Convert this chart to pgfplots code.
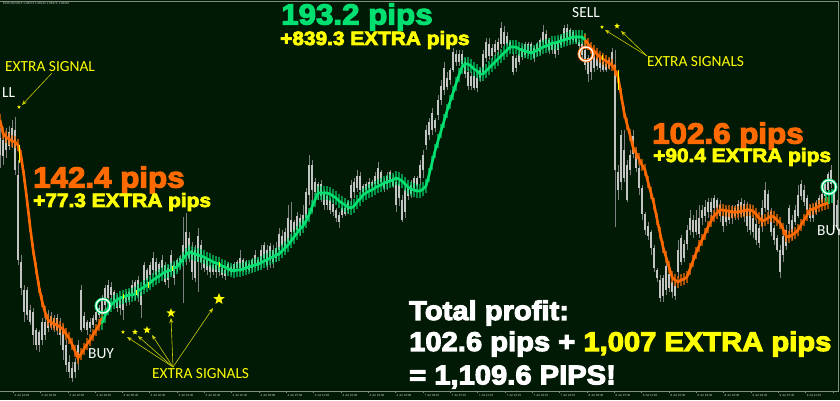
\documentclass[border=0pt]{standalone}
\usepackage{fontspec}
\usepackage{pgfplots}
\usepackage{pgfplotstable}
\pgfplotsset{compat=1.18}
\usetikzlibrary{arrows.meta}
\setmainfont{Liberation Sans}
\newfontfamily\heavy[BoldFeatures={FakeBold=4,FakeStretch=1.08}]{Liberation Sans}
\newfontfamily\callout{Carlito}
\definecolor{bg}{HTML}{011A05}
\definecolor{frameline}{HTML}{7F8F7F}
\definecolor{wick}{HTML}{808080}
\definecolor{body}{HTML}{C4C4C4}
\definecolor{buyline}{HTML}{00E070}
\definecolor{sellline}{HTML}{FF6A00}
\definecolor{note}{HTML}{FFFF00}

% filled five pointed star, the plotmarks one reads as an asterisk when small
\pgfdeclareplotmark{fivestar}{%
  \pgfpathmoveto{\pgfpointpolar{90}{\pgfplotmarksize}}%
  \pgfpathlineto{\pgfpointpolar{126}{.42\pgfplotmarksize}}%
  \pgfpathlineto{\pgfpointpolar{162}{\pgfplotmarksize}}%
  \pgfpathlineto{\pgfpointpolar{198}{.42\pgfplotmarksize}}%
  \pgfpathlineto{\pgfpointpolar{234}{\pgfplotmarksize}}%
  \pgfpathlineto{\pgfpointpolar{270}{.42\pgfplotmarksize}}%
  \pgfpathlineto{\pgfpointpolar{306}{\pgfplotmarksize}}%
  \pgfpathlineto{\pgfpointpolar{342}{.42\pgfplotmarksize}}%
  \pgfpathlineto{\pgfpointpolar{18}{\pgfplotmarksize}}%
  \pgfpathlineto{\pgfpointpolar{54}{.42\pgfplotmarksize}}%
  \pgfpathclose
  \pgfusepathqfill}

% one row per bar, 3 px apart: wick top/bottom, body top/bottom (image y)
\pgfplotstableread[row sep=crcr]{
t b bt bb\\
128 168 138 155\\130 165 140 156\\128 158 138 150\\126 150 132 146\\120 148 128 140\\117 175 130 170\\
160 265 175 260\\255 295 262 288\\285 322 290 312\\287 320 290 315\\305 325 310 322\\308 345 312 335\\
328 350 330 345\\330 352 332 345\\318 345 322 340\\310 340 322 335\\310 332 318 328\\312 330 316 326\\
315 332 318 328\\314 335 318 330\\318 345 325 335\\325 360 330 350\\340 372 345 365\\355 378 362 372\\
362 382 368 378\\358 378 362 372\\340 370 345 360\\285 332 290 330\\312 330 316 328\\320 335 322 330\\
318 332 322 328\\315 328 318 325\\310 322 312 320\\305 318 308 315\\295 315 298 312\\285 310 288 305\\
280 303 285 298\\282 300 287 295\\290 306 292 302\\295 312 298 308\\296 315 298 308\\296 320 298 310\\
292 306 295 302\\290 305 292 300\\280 298 285 295\\280 300 282 295\\276 302 280 296\\290 318 292 305\\
262 290 265 285\\268 285 270 280\\262 282 265 275\\252 275 258 270\\258 280 262 275\\262 278 264 272\\
255 272 260 268\\262 285 265 282\\265 288 268 280\\250 275 255 272\\262 285 265 278\\258 272 260 268\\
255 268 258 265\\217 303 245 262\\213 265 232 255\\232 262 238 258\\242 280 250 272\\245 282 250 278\\
228 292 236 262\\240 270 245 262\\258 272 260 268\\258 275 260 270\\262 278 265 272\\263 275 265 272\\
262 278 265 272\\262 276 264 272\\265 278 268 275\\268 280 270 276\\262 272 264 270\\265 275 267 272\\
262 272 264 270\\260 270 262 268\\250 272 258 268\\258 272 260 270\\260 272 262 268\\262 272 264 270\\
258 272 260 268\\250 268 255 265\\258 270 260 266\\245 268 250 262\\242 262 245 258\\245 270 250 265\\
243 268 246 260\\245 268 250 262\\242 262 248 258\\228 256 234 250\\230 252 236 246\\228 252 232 248\\
205 246 218 242\\202 240 220 232\\220 236 222 232\\212 235 216 230\\214 236 218 230\\205 228 215 226\\
188 222 192 218\\155 205 165 195\\160 212 165 190\\178 195 182 192\\182 200 184 195\\180 202 184 196\\
190 210 192 205\\192 210 196 205\\198 214 200 210\\200 216 204 212\\208 222 210 218\\212 228 215 222\\
206 218 208 215\\206 216 208 214\\200 214 202 210\\180 205 185 198\\178 198 182 192\\170 192 176 188\\
172 196 176 190\\184 196 186 192\\182 194 184 190\\178 192 182 188\\180 190 182 186\\172 186 176 184\\
162 188 168 184\\170 186 172 182\\178 192 182 188\\172 190 176 184\\170 182 172 180\\175 188 178 186\\
178 212 182 205\\180 206 184 198\\195 222 200 220\\185 218 190 212\\186 200 188 196\\180 198 185 194\\
176 192 178 188\\176 190 178 186\\160 185 165 178\\150 178 155 170\\125 150 130 145\\118 140 122 135\\
108 135 113 130\\118 132 120 128\\95 120 100 115\\80 105 86 100\\62 95 68 90\\72 90 78 87\\
68 85 70 80\\48 72 52 70\\50 66 54 62\\50 66 54 62\\50 68 54 64\\58 78 62 74\\
68 90 72 86\\72 90 76 86\\72 90 76 88\\72 92 78 88\\68 82 70 78\\50 75 54 72\\
38 62 42 58\\38 60 44 56\\44 60 48 56\\40 56 44 52\\38 55 42 50\\22 48 28 44\\
26 46 32 44\\32 46 36 44\\40 50 42 47\\52 75 56 72\\55 72 58 68\\50 65 54 62\\
46 60 48 57\\42 58 44 55\\42 56 44 52\\42 54 44 52\\46 62 48 58\\42 56 44 52\\
38 55 40 52\\25 46 32 42\\30 48 34 44\\38 54 40 50\\40 54 42 50\\42 58 44 54\\
38 55 42 50\\34 48 36 45\\25 44 28 40\\24 42 28 38\\28 44 30 40\\30 42 32 40\\
34 44 36 42\\40 50 42 46\\42 58 44 55\\48 70 50 65\\55 82 58 74\\58 80 60 72\\
52 72 56 68\\55 70 58 66\\55 72 58 68\\60 72 62 70\\62 72 64 70\\58 70 60 68\\
48 68 52 66\\50 227 65 170\\165 200 172 190\\130 190 135 182\\130 182 150 178\\160 202 165 200\\
150 175 155 170\\130 158 136 154\\150 172 154 168\\165 195 168 188\\185 220 188 214\\212 235 214 230\\
222 240 226 236\\230 255 232 248\\245 272 248 268\\268 282 270 278\\275 302 280 298\\275 302 278 296\\
262 295 266 290\\272 292 274 288\\278 298 282 292\\282 300 286 296\\240 278 250 272\\235 265 238 262\\
240 262 244 258\\225 250 230 244\\210 235 218 230\\215 238 220 232\\210 235 220 232\\205 238 218 234\\
205 225 210 218\\200 222 207 216\\198 218 202 212\\198 222 202 212\\195 215 198 208\\198 212 200 208\\
200 222 205 216\\212 232 216 226\\208 226 212 222\\210 224 212 220\\205 224 210 218\\205 220 208 216\\
200 220 204 214\\198 218 202 214\\200 222 204 216\\202 232 208 226\\205 235 210 230\\215 238 218 232\\
220 245 224 240\\225 248 228 243\\200 232 208 226\\182 212 190 208\\190 216 194 210\\208 236 212 232\\
225 245 228 240\\235 252 238 250\\245 278 250 272\\232 262 236 255\\225 250 230 246\\205 238 208 224\\
215 240 220 232\\205 225 210 222\\185 218 195 216\\180 200 184 196\\185 206 190 202\\195 212 198 210\\
205 222 208 218\\205 222 208 218\\200 215 203 212\\195 208 198 204\\190 205 194 202\\180 200 184 196\\
172 192 174 190\\165 188 170 184\\180 230 190 226\\200 230 205 226\\
}\candles

\pgfplotstableread[row sep=crcr]{
x y\\
0 120\\3 133\\6 137\\9 139\\12 141\\15 142\\18 145\\21 156\\24 176\\27 200\\30 226\\33 249\\36 268\\39 287\\
42 301\\45 312\\48 320\\51 322\\54 324\\57 325\\60 327\\63 329\\66 334\\69 338\\72 344\\75 351\\78 358\\
81 354\\84 349\\87 344\\90 340\\93 335\\96 330\\99 325\\102 318\\
}\sellone

\pgfplotstableread[row sep=crcr]{
x y\\
102 323\\105 316\\108 308\\111 305\\114 302\\117 300\\120 298\\123 297\\126 296\\129 295\\132 295\\135 294\\
138 291\\141 289\\144 287\\147 285\\150 283\\153 280\\156 278\\159 276\\162 274\\165 272\\168 271\\171 270\\
174 268\\177 267\\180 263\\183 259\\186 255\\189 252\\192 253\\195 254\\198 255\\201 256\\204 257\\207 259\\
210 260\\213 262\\216 263\\219 264\\222 266\\225 267\\228 269\\231 270\\234 271\\237 270\\240 270\\243 269\\
246 268\\249 267\\252 266\\255 265\\258 264\\261 263\\264 261\\267 260\\270 258\\273 257\\276 255\\279 254\\
282 251\\285 248\\288 245\\291 241\\294 237\\297 233\\300 229\\303 226\\306 221\\309 215\\312 207\\315 200\\
318 193\\321 193\\324 193\\327 193\\330 194\\333 196\\336 198\\339 201\\342 203\\345 205\\348 207\\351 208\\
354 206\\357 202\\360 199\\363 195\\366 193\\369 191\\372 190\\375 188\\378 186\\381 185\\384 183\\387 182\\
390 181\\393 180\\396 178\\399 179\\402 181\\405 184\\408 187\\411 189\\414 190\\417 191\\420 191\\423 189\\
426 186\\429 175\\432 163\\435 151\\438 141\\441 131\\444 121\\447 111\\450 102\\453 93\\456 84\\459 75\\
462 67\\465 64\\468 64\\471 66\\474 69\\477 71\\480 74\\483 74\\486 71\\489 68\\492 65\\495 62\\498 59\\
501 56\\504 53\\507 50\\510 47\\513 47\\516 47\\519 49\\522 50\\525 51\\528 52\\531 53\\534 52\\537 50\\
540 49\\543 47\\546 46\\549 45\\552 43\\555 43\\558 42\\561 41\\564 40\\567 39\\570 38\\573 37\\576 37\\
579 37\\582 37\\585 40\\
}\buyone

\pgfplotstableread[row sep=crcr]{
x y\\
585 40\\588 44\\591 48\\594 51\\597 54\\600 57\\603 59\\606 61\\609 63\\612 65\\615 70\\618 77\\621 94\\
624 112\\627 124\\630 135\\633 147\\636 153\\639 159\\642 165\\645 170\\648 182\\651 193\\654 204\\657 219\\
660 233\\663 247\\666 257\\669 267\\672 277\\675 280\\678 282\\681 280\\684 279\\687 277\\690 269\\693 261\\
696 253\\699 246\\702 240\\705 234\\708 227\\711 221\\714 216\\717 213\\720 210\\723 210\\726 211\\729 211\\
732 212\\735 212\\738 212\\741 211\\744 211\\747 210\\750 210\\753 211\\756 214\\759 218\\762 221\\765 220\\
768 218\\771 216\\774 217\\777 220\\780 223\\783 229\\786 236\\789 237\\792 235\\795 233\\798 230\\801 225\\
804 220\\807 215\\810 210\\813 209\\816 208\\819 206\\822 205\\825 204\\828 203\\
}\selltwo

\pgfplotsset{
  hatch/.style={draw=none, mark=none, forget plot,
    error bars/.cd, y dir=both, y fixed=#1, error mark=none},
}

\begin{document}
\begin{tikzpicture}
\clip (0,0) rectangle (840pt,400pt);
\fill[bg] (0,0) rectangle (840pt,400pt);
\begin{axis}[
  at={(0,0)}, anchor=south west,
  scale only axis, width=840pt, height=400pt,
  xmin=0, xmax=840, ymin=0, ymax=400, y dir=reverse,
  hide axis, clip=false,
]
% frame of the chart window
\addplot[frameline, line width=.8pt] coordinates {(0,1.5) (838,1.5) (838,391) (0,391)};

% bars: wicks, then bodies
\addplot[draw=none, mark=none, error bars/.cd, y dir=plus, y explicit, error mark=none,
  error bar style={wick, line width=.7pt}]
  table [x expr=\coordindex*3, y=t, y error plus expr=\thisrow{b}-\thisrow{t}] {\candles};
\addplot[draw=none, mark=none, error bars/.cd, y dir=plus, y explicit, error mark=none,
  error bar style={body, line width=1.2pt}]
  table [x expr=\coordindex*3, y=bt, y error plus expr=\thisrow{bb}-\thisrow{bt}] {\candles};

% indicator: hatch around the line
\addplot[hatch=6, error bar style={sellline, opacity=.65, line width=1.5pt}] table [x=x,y=y] {\sellone};
\addplot[hatch=7, error bar style={buyline, opacity=.6, line width=1.5pt}] table [x=x,y=y] {\buyone};
\addplot[hatch=6, error bar style={sellline, opacity=.65, line width=1.5pt}] table [x=x,y=y] {\selltwo};
\addplot[hatch=7, error bar style={buyline, opacity=.7, line width=1.2pt}] coordinates {(826,198) (829,197) (832,196)};
\addplot[sellline, line width=2.6pt] table [x=x,y=y] {\sellone};
\addplot[buyline, line width=2.6pt] table [x=x,y=y] {\buyone};
\addplot[sellline, line width=2.6pt] table [x=x,y=y] {\selltwo};

% short yellow pieces on the line where a signal fired
\addplot[note, line width=1pt] coordinates {(19.5,145) (19.5,163)};
\addplot[note, line width=1pt] coordinates {(123,294) (123,299)};
\addplot[note, line width=1pt] coordinates {(136,290) (136,295)};
\addplot[note, line width=1pt] coordinates {(148,282) (148,288)};
\addplot[note, line width=1pt] coordinates {(172,266) (172,271)};
\addplot[note, line width=1pt] coordinates {(219,262) (219,267)};
\addplot[note, line width=1pt] coordinates {(602,55) (602,60)};
\addplot[note, line width=1pt] coordinates {(618,70) (618,90)};

% entry rings
\addplot[only marks, mark=o, mark size=7pt, mark options={draw=buyline, line width=3pt}]
  coordinates {(103,306) (829,187)};
\addplot[only marks, mark=o, mark size=7pt, mark options={draw=sellline, line width=3pt}]
  coordinates {(586,54)};
\addplot[only marks, mark=o, mark size=7pt, mark options={draw=white, line width=1.3pt}]
  coordinates {(103,306) (829,187) (586,54)};

% arrows
\addplot[note!80!black, line width=.6pt, -{Stealth[length=5pt,width=4pt]}] coordinates {(52,73) (22,105)};
\addplot[note!80!black, line width=.6pt, -{Stealth[length=5pt,width=4pt]}] coordinates {(173,367) (127,337)};
\addplot[note!80!black, line width=.6pt, -{Stealth[length=5pt,width=4pt]}] coordinates {(173,367) (138,336)};
\addplot[note!80!black, line width=.6pt, -{Stealth[length=5pt,width=4pt]}] coordinates {(173,367) (152,335)};
\addplot[note!80!black, line width=.6pt, -{Stealth[length=5pt,width=4pt]}] coordinates {(173,367) (171,318)};
\addplot[note!80!black, line width=.6pt, -{Stealth[length=5pt,width=4pt]}] coordinates {(173,367) (213,308)};
\addplot[note!80!black, line width=.6pt, -{Stealth[length=5pt,width=4pt]}] coordinates {(647,56) (605,30)};
\addplot[note!80!black, line width=.6pt, -{Stealth[length=5pt,width=4pt]}] coordinates {(647,56) (621,31)};

% stars
\addplot[only marks, mark=fivestar, mark size=2pt, color=note] coordinates {(19,107) (123,332) (602,27)};
\addplot[only marks, mark=fivestar, mark size=3pt, color=note] coordinates {(135,332) (617,26)};
\addplot[only marks, mark=fivestar, mark size=4pt, color=note] coordinates {(147,330)};
\addplot[only marks, mark=fivestar, mark size=4.8pt, color=note] coordinates {(171,313)};
\addplot[only marks, mark=fivestar, mark size=6pt, color=note] coordinates {(219,299)};

% time scale along the bottom
\addplot[only marks, mark=|, mark size=1pt, mark options={draw=frameline, line width=.3pt}] coordinates {
 (13,392) (40,392) (68,392) (95,392) (122,392) (149,392) (177,392) (204,392) (231,392) (259,392)
 (286,392) (313,392) (341,392) (368,392) (395,392) (423,392) (450,392) (477,392) (505,392) (532,392)
 (559,392) (587,392) (614,392) (641,392) (669,392) (696,392) (723,392) (751,392) (778,392) (805,392) (833,392)};
\addplot[draw=none, mark=none, point meta=explicit symbolic, nodes near coords,
  every node near coord/.style={anchor=center, inner sep=0pt, text=white!80!bg,
    font=\fontsize{3}{3}\selectfont}]
  coordinates {
  (22,395.5) [2 Jul 14:30] (49,395.5) [2 Jul 18:30] (77,395.5) [2 Jul 22:30] (104,395.5) [3 Jul 02:45]
  (131,395.5) [3 Jul 06:45] (158,395.5) [3 Jul 10:45] (186,395.5) [3 Jul 14:45] (213,395.5) [3 Jul 18:45]
  (240,395.5) [3 Jul 22:45] (268,395.5) [4 Jul 03:00] (295,395.5) [4 Jul 07:00] (322,395.5) [4 Jul 11:00]
  (350,395.5) [4 Jul 15:00] (377,395.5) [4 Jul 19:00] (404,395.5) [4 Jul 23:00] (432,395.5) [7 Jul 03:15]
  (459,395.5) [7 Jul 07:15] (486,395.5) [7 Jul 11:15] (514,395.5) [7 Jul 15:15] (541,395.5) [7 Jul 19:15]
  (568,395.5) [7 Jul 23:15] (596,395.5) [8 Jul 03:30] (623,395.5) [8 Jul 07:30] (650,395.5) [8 Jul 11:30]
  (678,395.5) [8 Jul 15:30] (705,395.5) [8 Jul 19:30] (732,395.5) [8 Jul 23:30] (760,395.5) [9 Jul 03:45]
  (787,395.5) [9 Jul 07:45] (814,395.5) [9 Jul 11:45]};

% header
\node[anchor=west, inner sep=0pt, text=white!75!bg, font=\fontsize{3}{3}\selectfont] at (axis cs:3,4)
  {EURUSD,M15 1.08374 1.08412 1.08374 1.08402};

% big figures
\tikzset{big/.style={anchor=west, inner sep=0pt, font=\heavy\bfseries\fontsize{#1}{#1}\selectfont}}
\node[big=29, text=sellline] at (axis cs:33,180) {142.4 pips};
\node[big=19.3, text=note] at (axis cs:33,202) {+77.3 EXTRA pips};
\node[big=29, text=buyline] at (axis cs:281,17) {193.2 pips};
\node[big=19.3, text=note] at (axis cs:280,40) {+839.3 EXTRA pips};
\node[big=29, text=sellline] at (axis cs:652,136) {102.6 pips};
\node[big=19.3, text=note] at (axis cs:653,157) {+90.4 EXTRA pips};
\node[big=27, text=white] at (axis cs:409,313) {Total profit:};
\node[big=27, text=white] at (axis cs:409,344) {102.6 pips + \textcolor{note}{1,007 EXTRA pips}};
\node[big=27, text=white] at (axis cs:409,377) {= 1,109.6 PIPS!};

% chart callouts
\tikzset{small/.style={anchor=west, inner sep=0pt, font=\callout\fontsize{15.4}{15.4}\selectfont}}
\node[small, text=note] at (axis cs:5,67) {EXTRA SIGNAL};
\node[small, text=white] at (axis cs:2,93) {LL};
\node[small, text=white] at (axis cs:572,13) {SELL};
\node[small, text=note] at (axis cs:647,62) {EXTRA SIGNALS};
\node[small, text=white] at (axis cs:88,354) {BUY};
\node[small, text=note] at (axis cs:152,374) {EXTRA SIGNALS};
\node[small, text=white] at (axis cs:817,231) {BUY};
\end{axis}
\end{tikzpicture}
\end{document}
